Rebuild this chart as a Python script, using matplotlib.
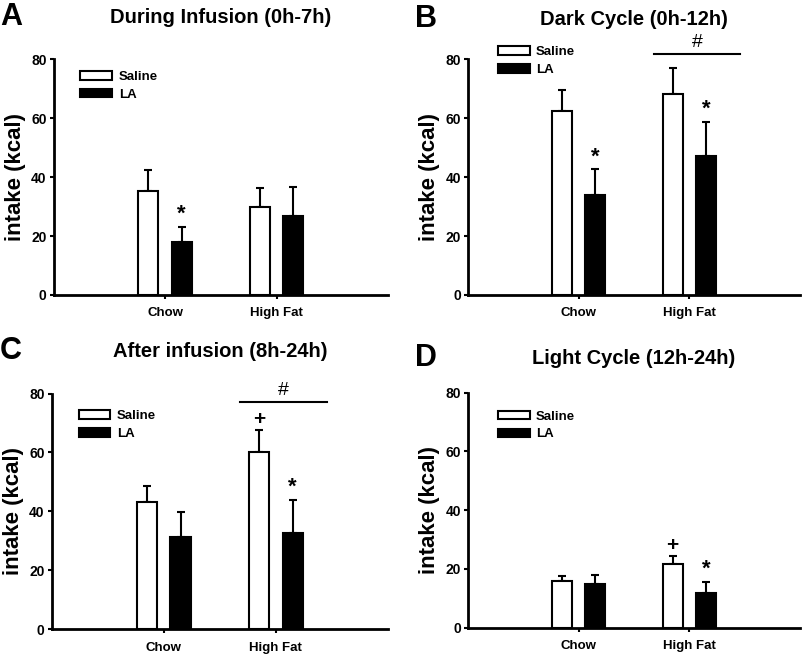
"""
Food intake after saline or LA infusion, chow vs high fat diet
"""

import matplotlib
matplotlib.use('Agg')
import matplotlib.pyplot as plt
import numpy as np
from matplotlib.patches import Patch

plt.rcParams['font.family'] = ['Liberation Sans', 'DejaVu Sans']
plt.rcParams['font.weight'] = 'bold'

# data (kcal, mean and upper SEM end)
groups = ['Chow', 'High Fat']
series = ['Saline', 'LA']
letters = ['A', 'B', 'C', 'D']
titles = ['During Infusion (0h-7h)', 'Dark Cycle (0h-12h)',
          'After infusion (8h-24h)', 'Light Cycle (12h-24h)']

saline_mean = [[35.4, 29.9], [62.4, 68.2], [43.0, 60.1], [15.9, 21.6]]
saline_top = [[42.4, 36.2], [69.6, 77.1], [48.5, 67.5], [17.6, 24.4]]
la_mean = [[17.9, 26.8], [34.0, 47.3], [31.1, 32.6], [14.9, 11.9]]
la_top = [[23.2, 36.5], [42.6, 58.8], [39.8, 44.0], [17.9, 15.7]]

# significance marks: (series index, group index, symbol)
marks = [[(1, 0, '*')],
         [(1, 0, '*'), (1, 1, '*')],
         [(0, 1, '+'), (1, 1, '*')],
         [(0, 1, '+'), (1, 1, '*')]]
hash_line = [False, True, True, False]  # '#' bar over high fat group
hash_y = [0, 81.6, 77.0, 0]

yticks = [0, 20, 40, 60, 80]

# axes boxes in figure fraction
boxes = [[0.0665, 0.551, 0.4155, 0.359],
         [0.581, 0.551, 0.413, 0.359],
         [0.064, 0.0426, 0.418, 0.3584],
         [0.581, 0.0446, 0.413, 0.3576]]
legend_pos = [(0.045, 1.0), (0.055, 1.105), (0.045, 0.98), (0.055, 0.975)]
title_y = [0.974, 0.971, 0.465, 0.455]


def main():
	fig = plt.figure(figsize=(8.05, 6.57), dpi=100)
	x = np.arange(1, len(groups) + 1)
	w = 0.18
	off = 0.15

	for i in range(4):
		ax = fig.add_axes(boxes[i])
		sm = np.array(saline_mean[i])
		lm = np.array(la_mean[i])
		se = np.array(saline_top[i]) - sm
		le = np.array(la_top[i]) - lm

		ax.bar(x - off, sm, w, color='white', edgecolor='black', linewidth=1.5, zorder=2)
		ax.bar(x + off, lm, w, color='black', edgecolor='black', linewidth=1.5, zorder=2)
		ax.errorbar(x - off, sm, yerr=[np.zeros_like(se), se], fmt='none',
		            ecolor='black', elinewidth=1.5, capsize=3, capthick=1.5, zorder=1)
		ax.errorbar(x + off, lm, yerr=[np.zeros_like(le), le], fmt='none',
		            ecolor='black', elinewidth=1.5, capsize=3, capthick=1.5, zorder=1)

		# stars and crosses
		for s, g, sym in marks[i]:
			xs = x[g] + (-off if s == 0 else off)
			top = saline_top[i][g] if s == 0 else la_top[i][g]
			size = 16 if sym == '*' else 15
			ax.text(xs, top + 0.5, sym, ha='center', va='bottom',
			        fontsize=size, fontweight='bold')

		if hash_line[i]:
			ax.plot([x[1] - 0.32, x[1] + 0.46], [hash_y[i], hash_y[i]],
			        color='black', lw=1.5, clip_on=False)
			ax.text(x[1] + 0.07, hash_y[i] + 1.0, '#', ha='center', va='bottom',
			        fontsize=14, fontweight='normal')

		ax.set_xlim(0, 3)
		ax.set_ylim(0, 80)
		ax.set_yticks(yticks)
		ax.set_xticks(x)
		ax.set_xticklabels(groups, fontsize=9.5, fontweight='bold')
		ax.tick_params(axis='y', labelsize=10, width=1.5, length=3, pad=2)
		ax.tick_params(axis='x', width=1.5, length=3, pad=6)
		for lab in ax.get_yticklabels():
			lab.set_fontweight('bold')
		for sp in ['top', 'right']:
			ax.spines[sp].set_visible(False)
		for sp in ['left', 'bottom']:
			ax.spines[sp].set_linewidth(2)
		ax.set_ylabel('intake (kcal)', fontsize=16, fontweight='bold', labelpad=4)

		handles = [Patch(facecolor='white', edgecolor='black', linewidth=1.5),
		           Patch(facecolor='black', edgecolor='black', linewidth=1.5)]
		ax.legend(handles, series, loc='upper left', bbox_to_anchor=legend_pos[i],
		          frameon=False, handlelength=2.4, handleheight=0.6,
		          labelspacing=0.45, handletextpad=0.5,
		          prop={'weight': 'bold', 'size': 9.5})

		# panel title and letter
		l, b, wd, ht = boxes[i]
		fig.text(l + wd / 2, title_y[i], titles[i], ha='center', va='center',
		         fontsize=14.5, fontweight='bold')
		lx = 0.0 if i % 2 == 0 else 0.516
		fig.text(lx, title_y[i], letters[i], ha='left', va='center',
		         fontsize=22, fontweight='bold')

	fig.savefig('out.png', dpi=100)


if __name__ == '__main__':
	main()
